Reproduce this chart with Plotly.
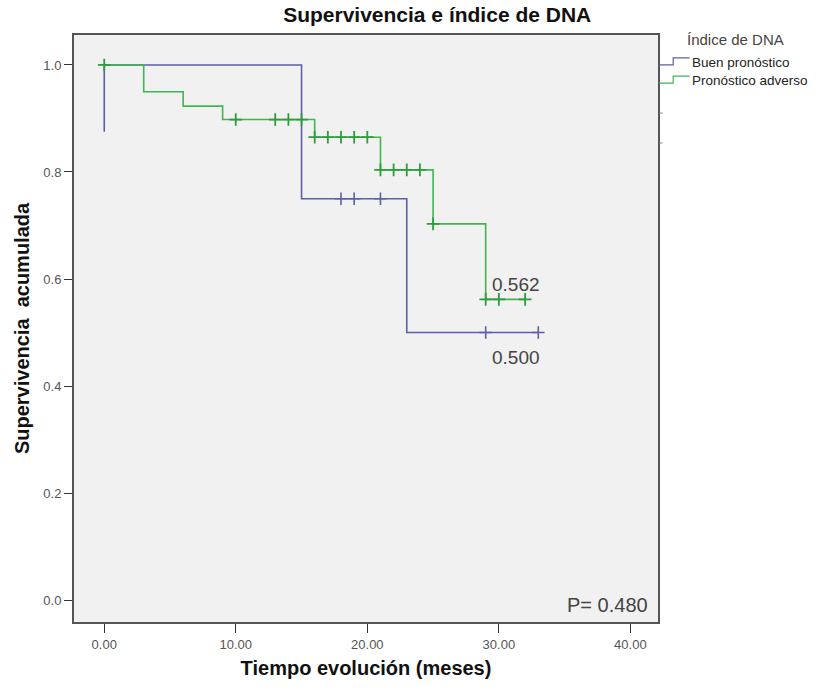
import plotly.graph_objects as go

# Kaplan-Meier steps: event times and survival after each event
buen_t = [0, 0, 15, 23, 33]
buen_s = [0.875, 1.0, 0.75, 0.500, 0.500]
adverso_t = [0, 3, 6, 9, 16, 21, 25, 29, 32]
adverso_s = [1.0, 0.950, 0.923, 0.898, 0.865, 0.804, 0.703, 0.562, 0.562]

# censored observations (months)
buen_cens = [18, 19, 21, 29, 33]
adverso_cens = [0, 10, 13, 14, 15, 16, 17, 18, 19, 20, 21, 22, 23, 24, 25, 29, 30, 32]

x_ticks = [0, 10, 20, 30, 40]
y_ticks = [0.0, 0.2, 0.4, 0.6, 0.8, 1.0]

series_names = ["Buen pronóstico", "Pronóstico adverso"]
p_value = 0.480

BLUE = "#5b60a8"
GREEN = "#3fb650"
GREEN_DARK = "#2e9c3e"
TXT = "#444444"
FONT = "Liberation Sans, Arial, sans-serif"


def level_at(ts, ss, t):
    """Right-continuous step value at time t."""
    val = ss[0]
    for ti, si in zip(ts, ss):
        if ti <= t:
            val = si
    return val


fig = go.Figure()

fig.add_trace(go.Scatter(x=buen_t, y=buen_s, mode="lines", line=dict(color=BLUE, width=1.6, shape="hv"),
                         name=series_names[0], showlegend=False, hoverinfo="skip"))
fig.add_trace(go.Scatter(x=adverso_t, y=adverso_s, mode="lines", line=dict(color=GREEN, width=1.6, shape="hv"),
                         name=series_names[1], showlegend=False, hoverinfo="skip"))

fig.add_trace(go.Scatter(x=buen_cens, y=[level_at(buen_t, buen_s, t) for t in buen_cens], mode="markers",
                         marker=dict(symbol="cross-thin", size=9, line=dict(color=BLUE, width=1.6)),
                         showlegend=False, hoverinfo="skip"))
fig.add_trace(go.Scatter(x=adverso_cens, y=[level_at(adverso_t, adverso_s, t) for t in adverso_cens], mode="markers",
                         marker=dict(symbol="cross-thin", size=9, line=dict(color=GREEN_DARK, width=1.8)),
                         showlegend=False, hoverinfo="skip"))

# final survival values
fig.add_annotation(x=31.3, y=adverso_s[-1], text=f"{adverso_s[-1]:.3f}", showarrow=False, yshift=15,
                   font=dict(family=FONT, size=19, color=TXT))
fig.add_annotation(x=31.3, y=buen_s[-1], text=f"{buen_s[-1]:.3f}", showarrow=False, yshift=-25,
                   font=dict(family=FONT, size=19, color=TXT))
fig.add_annotation(x=0.986, y=0.0, xref="paper", yref="paper", text=f"P= {p_value:.3f}", showarrow=False,
                   xanchor="right", yanchor="bottom", yshift=4, font=dict(family=FONT, size=20, color=TXT))

# legend drawn at the right of the frame
fig.add_annotation(x=1.046, y=0.9915, xref="paper", yref="paper", text="Índice de DNA", showarrow=False,
                   xanchor="left", yanchor="middle", font=dict(family=FONT, size=15, color=TXT))
for i, (name, col) in enumerate(zip(series_names, [BLUE, GREEN])):
    yy = 0.954 - i * 0.031
    x0 = 1.002
    fig.add_shape(type="path", xref="paper", yref="paper",
                  path=f"M {x0} {yy - 0.005} L {x0 + 0.024} {yy - 0.005} L {x0 + 0.024} {yy + 0.007} L {x0 + 0.052} {yy + 0.007}",
                  line=dict(color=col, width=1.2))
    fig.add_annotation(x=x0 + 0.052, y=yy, xref="paper", yref="paper", text=name, showarrow=False,
                       xanchor="left", yanchor="middle", font=dict(family=FONT, size=13.5, color="#222222"))

# two short marks just outside the right frame edge
for yy in [0.867, 0.816]:
    fig.add_shape(type="line", xref="paper", yref="paper", x0=1.002, x1=1.008, y0=yy, y1=yy,
                  line=dict(color="#888888", width=1))

fig.update_layout(
    width=828, height=690,
    margin=dict(l=74, r=170, t=35, b=68),
    paper_bgcolor="white",
    plot_bgcolor="#f1f1f1",
    title=dict(text="Supervivencia e índice de DNA", x=0.528, xanchor="center", y=0.979, yanchor="middle",
               font=dict(family=FONT, size=21, color="#111111", weight="bold")),
    showlegend=False,
)
fig.update_xaxes(range=[-2.3, 42.1], tickvals=x_ticks, ticktext=[f"{v:.2f}" for v in x_ticks],
                 showgrid=False, zeroline=False, showline=True, mirror=True, linecolor="#555555", linewidth=2,
                 ticks="outside", ticklen=9, tickcolor="#333333", tickwidth=1,
                 tickfont=dict(family=FONT, size=13, color="#555555"),
                 title=dict(text="Tiempo evolución (meses)", standoff=10,
                            font=dict(family=FONT, size=20, color="#111111", weight="bold")))
fig.update_yaxes(range=[-0.041, 1.056], tickvals=y_ticks, ticktext=[f"{v:.1f}" for v in y_ticks],
                 showgrid=False, zeroline=False, showline=True, mirror=True, linecolor="#555555", linewidth=2,
                 ticks="outside", ticklen=8, tickcolor="#333333", tickwidth=1,
                 tickfont=dict(family=FONT, size=13, color="#555555"),
                 title=dict(text="Supervivencia  acumulada", standoff=8,
                            font=dict(family=FONT, size=20, color="#111111", weight="bold")))

fig.write_html("out.html")
